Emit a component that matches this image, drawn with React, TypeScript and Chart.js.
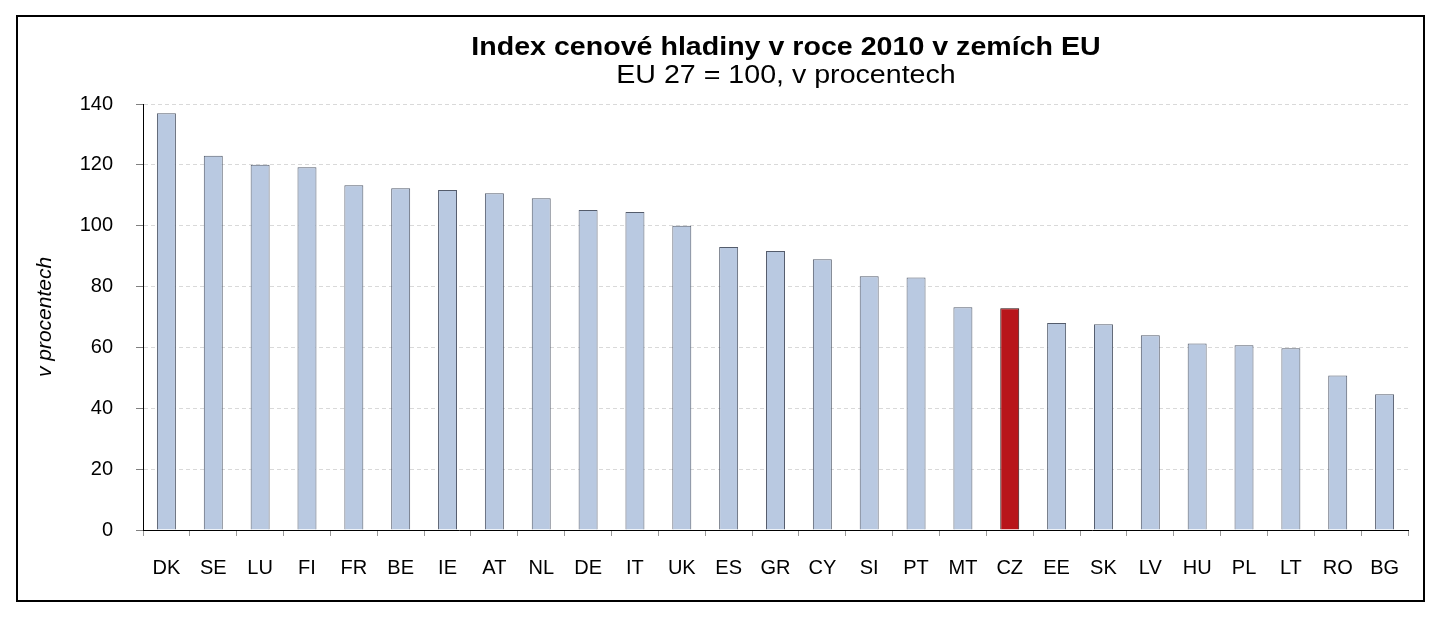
import React, { useEffect, useRef } from "react";
import { Chart, registerables } from "chart.js";

Chart.register(...registerables);

const TITLE = "Index cenové hladiny v roce 2010 v zemích EU";
const SUBTITLE = "EU 27 = 100, v procentech";
const Y_TITLE = "v procentech";

const countries = [
  "DK", "SE", "LU", "FI", "FR", "BE", "IE", "AT", "NL", "DE", "IT", "UK", "ES", "GR",
  "CY", "SI", "PT", "MT", "CZ", "EE", "SK", "LV", "HU", "PL", "LT", "RO", "BG",
];
const priceIndex = [
  137, 123, 120, 119.2, 113.3, 112.3, 111.7, 110.7, 109, 105.2, 104.5, 100, 93, 91.7,
  89, 83.4, 83, 73.2, 72.9, 68, 67.6, 64, 61.3, 60.7, 59.7, 50.8, 44.6,
];
const highlighted = "CZ";
const yTicks = { min: 0, max: 140, step: 20 };

const FONT = "'Liberation Sans', Arial, sans-serif";
const BAR_FILL = "#B9C9E1";
const BAR_BORDER = "#545C6C";
const HL_FILL = "#B8151A";
const HL_BORDER = "#2a0a0a";

const titlePlugin = {
  id: "customTitle",
  afterDraw(chart: any) {
    const ctx = chart.ctx;
    const cx = 768;
    ctx.save();
    ctx.fillStyle = "#000";
    ctx.textAlign = "center";
    ctx.textBaseline = "alphabetic";
    ctx.translate(cx, 0);
    ctx.scale(1.1, 1);
    ctx.font = `bold 26px ${FONT}`;
    ctx.fillText(TITLE, 0, 38);
    ctx.font = `26px ${FONT}`;
    ctx.fillText(SUBTITLE, 0, 66);
    ctx.restore();
  },
};

export default function App() {
  const ref = useRef<HTMLCanvasElement>(null);

  useEffect(() => {
    if (!ref.current) return;
    const chart = new Chart(ref.current, {
      type: "bar",
      data: {
        labels: countries,
        datasets: [
          {
            data: priceIndex,
            backgroundColor: countries.map((c) => (c === highlighted ? HL_FILL : BAR_FILL)),
            borderColor: countries.map((c) => (c === highlighted ? HL_BORDER : BAR_BORDER)),
            borderWidth: 1,
            barPercentage: 0.405,
            categoryPercentage: 1,
          },
        ],
      },
      options: {
        responsive: false,
        animation: false,
        layout: { padding: { top: 87, left: 10, right: 15, bottom: 0 } },
        plugins: {
          legend: { display: false },
          title: { display: false },
          tooltip: { enabled: false },
        },
        scales: {
          x: {
            afterFit: (s: any) => {
              s.height = 70;
            },
            grid: {
              display: true,
              drawOnChartArea: false,
              drawTicks: true,
              tickLength: 6,
              tickColor: "#999999",
              offset: true,
            },
            border: { display: true, color: "#000000", width: 1 },
            ticks: {
              color: "#000000",
              font: { family: FONT, size: 20 },
              padding: 20,
              maxRotation: 0,
              autoSkip: false,
            },
          },
          y: {
            min: yTicks.min,
            max: yTicks.max,
            afterFit: (s: any) => {
              s.width = 115;
            },
            grid: {
              color: "#D9D9D9",
              lineWidth: 1,
              drawTicks: true,
              tickLength: 7,
              tickColor: "#808080",
              tickBorderDash: [],
            },
            border: { display: true, color: "#000000", width: 1, dash: [4, 3] },
            ticks: {
              stepSize: yTicks.step,
              color: "#000000",
              font: { family: FONT, size: 20 },
              padding: 23,
            },
            title: {
              display: true,
              text: Y_TITLE,
              color: "#000000",
              font: { family: FONT, size: 21, style: "italic" },
              padding: { top: 5, bottom: 0 },
            },
          },
        },
      },
      plugins: [titlePlugin],
    });
    return () => chart.destroy();
  }, []);

  return (
    <div
      style={{
        position: "absolute",
        left: 16,
        top: 15,
        width: 1409,
        height: 587,
        border: "2px solid #000",
        boxSizing: "border-box",
        background: "#fff",
      }}
    >
      <canvas ref={ref} width={1405} height={583} style={{ display: "block" }} />
    </div>
  );
}
